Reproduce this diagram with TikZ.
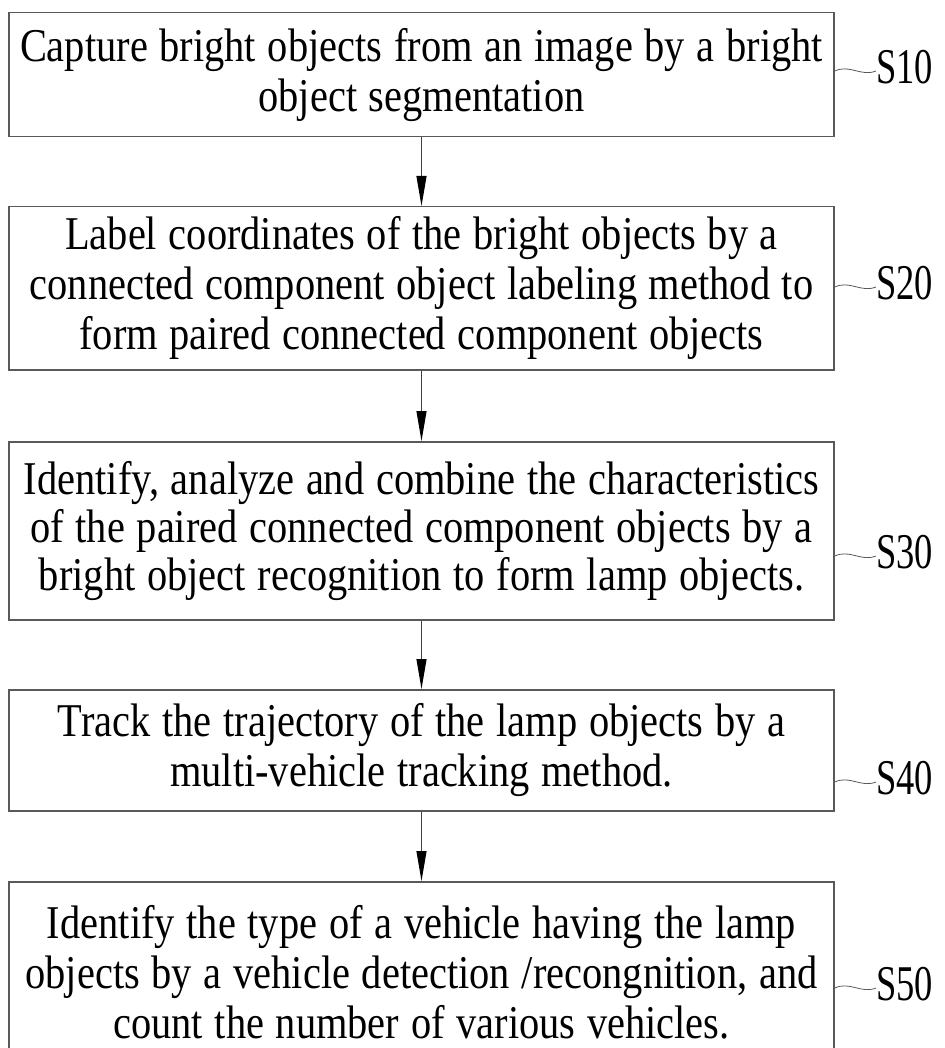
\documentclass[tikz,border=0pt]{standalone}
\usepackage{fontspec}
\setmainfont{Liberation Serif}[FakeStretch=0.86]
\newfontfamily\labelfont{Liberation Serif}[FakeStretch=0.73]
\usetikzlibrary{arrows.meta}
\newlength\boxspace
\setlength\boxspace{11.7pt}
\begin{document}
\begin{tikzpicture}[x=1pt,y=-1pt,
  stepbox/.style={draw=black!65, line width=1.5pt, minimum width=825pt, inner sep=0pt,
    align=center, anchor=north, font=\fontsize{47}{50}\selectfont,
    execute at begin node={\spaceskip=\boxspace\relax}},
  flow/.style={line width=1pt, draw=black!75, -{Triangle[length=30pt,width=10pt,fill=black,color=black]}},
  steplabel/.style={anchor=west, inner sep=0pt, font=\labelfont\fontsize{50}{52}\selectfont},
  squiggle/.style={line width=0.8pt, draw=black!65}]
\useasboundingbox (0,0) rectangle (944,1048);
\clip (0,0) rectangle (944,1048);
\node[stepbox, minimum height=124pt] (b1) at (421.5,12)
  {Capture bright objects from an image by a bright\\object segmentation};
\node[stepbox, minimum height=163pt] (b2) at (421.5,206)
  {Label coordinates of the bright objects by a\\connected component object labeling method to\\form paired connected component objects};
\node[stepbox, minimum height=178pt, font=\fontsize{47}{48}\selectfont] (b3) at (421.5,441)
  {Identify, analyze and combine the characteristics\\of the paired connected component objects by a\\bright object recognition to form lamp objects.};
\node[stepbox, minimum height=121pt] (b4) at (421.5,689)
  {Track the trajectory of the lamp objects by a\\multi-vehicle tracking method.};
\node[stepbox, minimum height=182pt] (b5) at (421.5,881)
  {Identify the type of a vehicle having the lamp\\objects by a vehicle detection /recongnition, and\\count the number of various vehicles.};
\draw[flow] (b1) -- (b2);
\draw[flow] (b2) -- (b3);
\draw[flow] (b3) -- (b4);
\draw[flow] (b4) -- (b5);
\coordinate (c1) at (b1.east |- 0,71);
\coordinate (c2) at (b2.east |- 0,287);
\coordinate (c3) at (b3.east |- 0,556);
\coordinate (c4) at (b4.east |- 0,782);
\coordinate (c5) at (b5.east |- 0,988);
\node[steplabel] (l1) at (876,67) {S10};
\node[steplabel] (l2) at (876,283) {S20};
\node[steplabel] (l3) at (876,552) {S30};
\node[steplabel] (l4) at (876,778) {S40};
\node[steplabel] (l5) at (876,984) {S50};
\foreach \i in {1,...,5}
  \draw[squiggle] (c\i) .. controls +(15,-7) and +(-15,6) .. ([yshift=-4pt]l\i.west);
\end{tikzpicture}
\end{document}
